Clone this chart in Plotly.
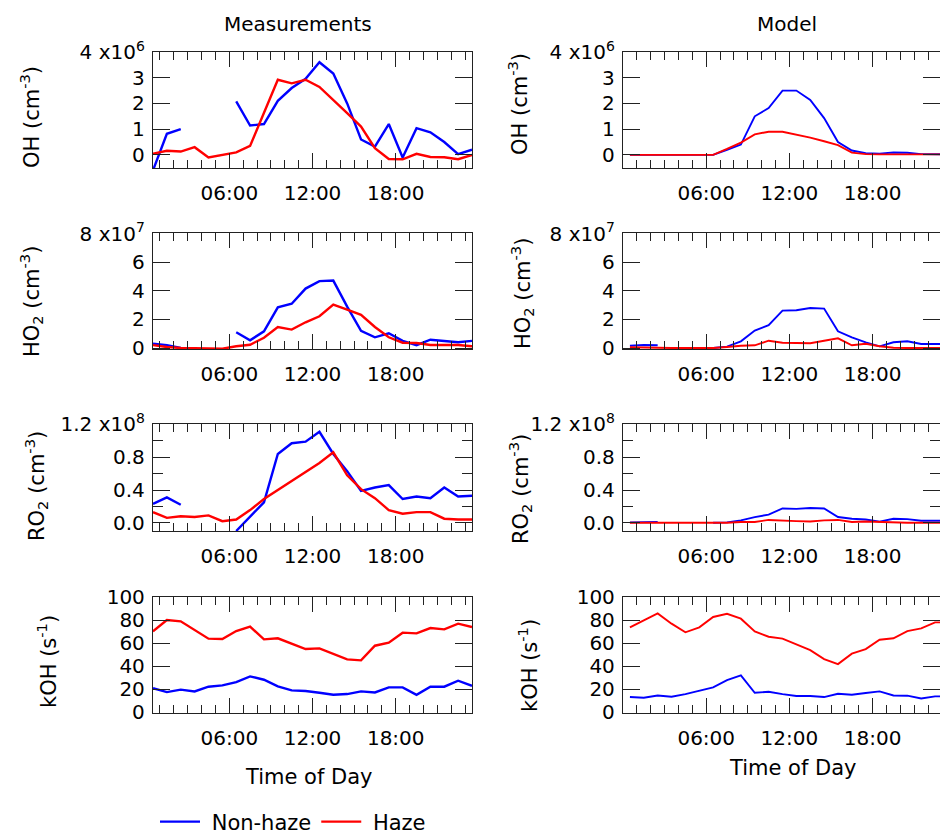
import plotly.graph_objects as go

W, H = 940, 834

hours = [0.5, 1.5, 2.5, 3.5, 4.5, 5.5, 6.5, 7.5, 8.5, 9.5, 10.5, 11.5,
         12.5, 13.5, 14.5, 15.5, 16.5, 17.5, 18.5, 19.5, 20.5, 21.5, 22.5, 23.5]
N = None

# OH (1e6 cm-3)
oh_meas_nonhaze = [-0.6, 0.82, 1.0, N, N, N, 2.08, 1.14, 1.2, 2.1, 2.6, 2.96,
                   3.6, 3.16, 2.0, 0.6, 0.32, 1.2, -0.1, 1.04, 0.88, 0.5, 0.03, 0.2]
oh_meas_haze = [0.05, 0.16, 0.13, 0.3, -0.1, 0.0, 0.1, 0.35, 1.6, 2.92, 2.78, 2.92,
                2.64, 2.14, 1.62, 1.1, 0.26, -0.16, -0.17, 0.04, -0.08, -0.09, -0.17, 0.0]
oh_mod_nonhaze = [0, 0, 0, 0, 0, 0, 0, 0.2, 0.4, 1.5, 1.82, 2.5,
                  2.5, 2.14, 1.43, 0.5, 0.17, 0.07, 0.05, 0.09, 0.08, 0.03, 0.02, 0.02]
oh_mod_haze = [0, 0, 0, 0, 0, 0, 0, 0.23, 0.48, 0.8, 0.9, 0.9,
               0.8, 0.67, 0.53, 0.38, 0.09, 0.03, 0.02, 0.02, 0.02, 0.02, 0.02, 0.02]

# HO2 (1e7 cm-3)
ho2_meas_nonhaze = [0.3, 0.2, 0.0, N, N, N, 1.1, 0.54, 1.17, 2.85, 3.1, 4.16,
                    4.68, 4.72, 2.9, 1.2, 0.75, 1.03, 0.5, 0.2, 0.58, 0.47, 0.4, 0.5]
ho2_meas_haze = [0.2, 0.07, 0.0, 0.0, -0.05, -0.05, 0.12, 0.23, 0.72, 1.47, 1.29, 1.8,
                 2.22, 3.04, 2.69, 2.32, 1.47, 0.75, 0.37, 0.35, 0.21, 0.21, 0.21, 0.12]
ho2_mod_nonhaze = [0.16, 0.21, 0.19, N, N, N, 0.0, 0.1, 0.47, 1.22, 1.6, 2.62,
                   2.64, 2.8, 2.76, 1.17, 0.75, 0.4, 0.12, 0.4, 0.47, 0.28, 0.28, 0.28]
ho2_mod_haze = [0.05, 0.02, 0.0, 0.0, 0.0, 0.0, 0.0, 0.07, 0.16, 0.19, 0.51, 0.37,
                0.33, 0.33, 0.51, 0.68, 0.19, 0.3, 0.12, 0.02, 0.0, 0.0, 0.0, 0.0]

# RO2 (1e8 cm-3)
ro2_meas_nonhaze = [0.23, 0.31, 0.22, N, N, N, -0.1, 0.08, 0.25, 0.84, 0.97, 0.99,
                    1.11, 0.84, 0.63, 0.39, 0.43, 0.46, 0.29, 0.32, 0.3, 0.43, 0.32, 0.33]
ro2_meas_haze = [0.13, 0.06, 0.08, 0.07, 0.09, 0.02, 0.04, 0.155, 0.29, 0.4, 0.5, 0.61,
                 0.73, 0.86, 0.58, 0.41, 0.3, 0.155, 0.11, 0.13, 0.13, 0.05, 0.04, 0.04]
ro2_mod_nonhaze = [0.005, 0.01, 0.01, N, N, N, 0.0, 0.005, 0.03, 0.07, 0.1, 0.175,
                   0.17, 0.18, 0.175, 0.07, 0.05, 0.04, 0.015, 0.05, 0.045, 0.025, 0.025, 0.025]
ro2_mod_haze = [0, 0, 0, 0, 0, 0, 0, 0, 0.01, 0.01, 0.035, 0.025,
                0.02, 0.015, 0.03, 0.035, 0.01, 0.015, 0.01, 0, 0, 0, 0, 0]

# kOH (s-1)
koh_meas_nonhaze = [21.0, 17.6, 19.7, 18.2, 22.3, 23.4, 26.3, 31.2, 28.3, 22.5, 19.1, 18.5,
                    17.0, 15.3, 15.9, 18.2, 17.3, 21.7, 21.7, 15.3, 22.3, 22.3, 27.5, 23.1]
koh_meas_haze = [70.2, 80.0, 78.9, 71.4, 63.9, 63.6, 70.5, 74.3, 63.3, 64.2, 59.5, 54.9,
                 55.5, 50.9, 46.0, 45.1, 57.8, 60.4, 69.1, 68.5, 73.1, 72.0, 76.9, 74.0]
koh_mod_nonhaze = [13.3, 12.7, 14.7, 13.6, 15.9, 18.8, 21.7, 28.0, 32.1, 17.0, 17.9, 15.9,
                   14.2, 14.2, 13.3, 16.2, 15.3, 16.8, 18.2, 14.7, 14.5, 12.1, 13.9, 13.9]
koh_mod_haze = [73.7, 79.8, 85.8, 76.9, 69.4, 73.7, 82.7, 85.5, 81.2, 70.2, 65.6, 63.9,
                59.2, 54.0, 46.2, 41.9, 50.9, 54.9, 63.0, 64.2, 70.5, 72.8, 78.0, 78.0]

x_tickvals = [6, 12, 18]
x_ticktext = ["06:00", "12:00", "18:00"]

FONT = "DejaVu Sans"
BLUE = "#0000FF"
RED = "#FF0000"
AX = "#222222"

def px(x):
    return x / W

def py(y):
    return 1 - y / H

# panel geometry (pixels)
cols = [(153, 472, [0.5, 23.5]), (623, 940, [0.0, 22.856])]
rows = [(52, 168), (233, 349), (424, 531), (597, 713)]

row_specs = [
    dict(meas=(oh_meas_nonhaze, oh_meas_haze), mod=(oh_mod_nonhaze, oh_mod_haze),
         rng=[-0.51, 4.0], tickvals=[0, 1, 2, 3, 4],
         ticktext=["0", "1", "2", "3", "4 x10<sup>6</sup>"], minor=None,
         title="OH (cm<sup>-3</sup>)"),
    dict(meas=(ho2_meas_nonhaze, ho2_meas_haze), mod=(ho2_mod_nonhaze, ho2_mod_haze),
         rng=[-0.07, 8.05], tickvals=[0, 2, 4, 6, 8],
         ticktext=["0", "2", "4", "6", "8 x10<sup>7</sup>"], minor=None,
         title="HO<sub>2</sub> (cm<sup>-3</sup>)"),
    dict(meas=(ro2_meas_nonhaze, ro2_meas_haze), mod=(ro2_mod_nonhaze, ro2_mod_haze),
         rng=[-0.10, 1.205], tickvals=[0, 0.4, 0.8, 1.2],
         ticktext=["0.0", "0.4", "0.8", "1.2 x10<sup>8</sup>"], minor=[0.2, 0.6, 1.0],
         title="RO<sub>2</sub> (cm<sup>-3</sup>)"),
    dict(meas=(koh_meas_nonhaze, koh_meas_haze), mod=(koh_mod_nonhaze, koh_mod_haze),
         rng=[-0.5, 100], tickvals=[0, 20, 40, 60, 80, 100],
         ticktext=["0", "20", "40", "60", "80", "100"], minor=None,
         title="kOH (s<sup>-1</sup>)"),
]

# y-title positions (pixel centers) [meas, model]
ytitle_pos = [((30, 117), (518, 104)), ((31, 302), (522, 294)),
              ((36, 486), (520, 489)), ((47, 662), (528, 666))]

fig = go.Figure()
layout = dict(
    width=W, height=H, margin=dict(l=0, r=0, t=0, b=0, pad=0, autoexpand=False),
    paper_bgcolor="white", plot_bgcolor="white",
    font=dict(family=FONT, size=20, color="black"),
    showlegend=True,
    legend=dict(orientation="h", x=px(155), y=py(822), xanchor="left", yanchor="middle",
                font=dict(family=FONT, size=21, color="black"),
                bgcolor="rgba(0,0,0,0)", itemwidth=40, tracegroupgap=0),
)
annotations = []

idx = 0
for r, (top, bot) in enumerate(rows):
    spec = row_specs[r]
    for c, (left, right, xr) in enumerate(cols):
        idx += 1
        xname = "xaxis" if idx == 1 else f"xaxis{idx}"
        yname = "yaxis" if idx == 1 else f"yaxis{idx}"
        xref = "x" if idx == 1 else f"x{idx}"
        yref = "y" if idx == 1 else f"y{idx}"
        layout[xname] = dict(
            domain=[px(left), px(right)], range=xr, anchor=yref,
            tickmode="array", tickvals=x_tickvals, ticktext=x_ticktext,
            ticks="inside", ticklen=15, tickwidth=1.3, tickcolor=AX,
            showline=True, linecolor=AX, linewidth=1.3, mirror="ticks",
            showgrid=False, zeroline=False, ticklabelstandoff=7,
            tickfont=dict(family=FONT, size=20, color="black"),
            minor=dict(tickmode="linear", tick0=0, dtick=1, ticks="inside",
                       ticklen=8, tickwidth=1.3, tickcolor=AX, showgrid=False),
        )
        ydict = dict(
            domain=[py(bot), py(top)], range=spec["rng"], anchor=xref,
            tickmode="array", tickvals=spec["tickvals"], ticktext=spec["ticktext"],
            ticks="inside", ticklen=17, tickwidth=1.3, tickcolor=AX,
            showline=True, linecolor=AX, linewidth=1.3, mirror="ticks",
            showgrid=False, zeroline=False, ticklabelstandoff=3,
            tickfont=dict(family=FONT, size=20, color="black"),
        )
        if spec["minor"]:
            ydict["minor"] = dict(tickmode="array", tickvals=spec["minor"], ticks="inside",
                                  ticklen=10, tickwidth=1.3, tickcolor=AX, showgrid=False)
        layout[yname] = ydict

        nonhaze, haze = spec["meas"] if c == 0 else spec["mod"]
        lw = 2.4 if c == 0 else 1.9
        show = (idx == 1)
        fig.add_trace(go.Scatter(x=hours, y=nonhaze, mode="lines", name=" Non-haze",
                                 line=dict(color=BLUE, width=lw), xaxis=xref, yaxis=yref,
                                 legendgroup="nh", showlegend=show))
        fig.add_trace(go.Scatter(x=hours, y=haze, mode="lines", name=" Haze",
                                 line=dict(color=RED, width=lw), xaxis=xref, yaxis=yref,
                                 legendgroup="h", showlegend=show))

        tx, ty = ytitle_pos[r][c]
        annotations.append(dict(text=spec["title"], x=px(tx), y=py(ty), xref="paper",
                                yref="paper", showarrow=False, textangle=-90,
                                xanchor="center", yanchor="middle",
                                font=dict(family=FONT, size=21, color="black")))

def label(text, x, y, size):
    return dict(text=text, x=px(x), y=py(y), xref="paper", yref="paper",
                showarrow=False, xanchor="center", yanchor="middle",
                font=dict(family=FONT, size=size, color="black"))

annotations += [
    label("Measurements", 298, 24, 20),
    label("Model", 787, 24, 20),
    label("Time of Day", 308, 777, 21),
    label("Time of Day", 792, 768, 21),
]
layout["annotations"] = annotations
fig.update_layout(**layout)
fig.write_html("out.html")
